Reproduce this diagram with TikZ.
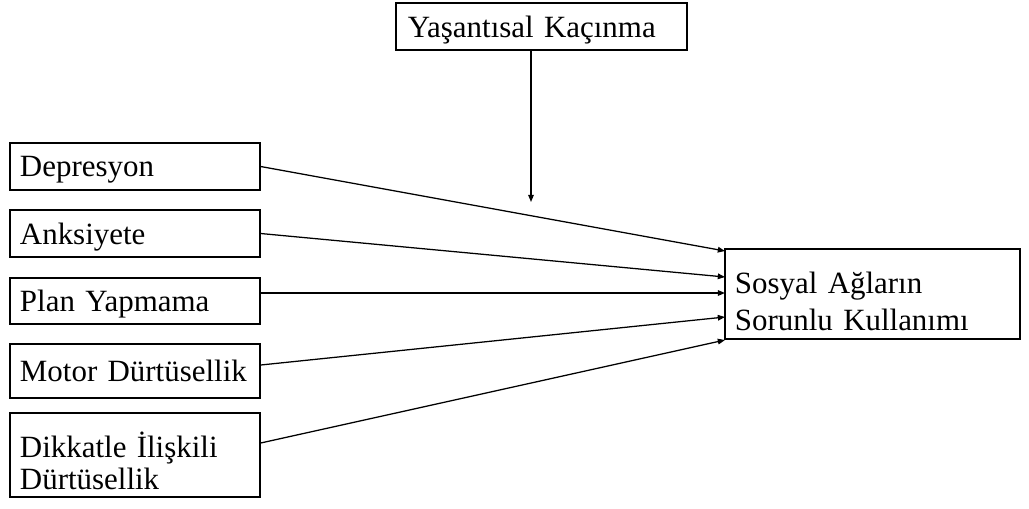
\documentclass[tikz,border=0pt]{standalone}
\usepackage{fontspec}
\setmainfont{Liberation Serif}
\usetikzlibrary{positioning,arrows.meta}

\begin{document}
\begin{tikzpicture}[
        x=0.025cm, y=-0.025cm,
        every node/.style={font=\fontsize{22}{22}\selectfont},
        box/.style={rectangle, draw, line width=0.9pt, inner xsep=0.25cm, inner ysep=0pt, align=left, minimum height=#1},
        leftbox/.style={box=#1, text width=5.75cm, text depth=0pt},
        arrow/.style={-{Triangle[length=1.8mm, width=1.4mm]}, line width=0.9pt}
    ]
    \useasboundingbox (0,0) rectangle (1029,508);
    % predictors on the left
    \node[leftbox=1.175cm] (dep) at (135,166.5) {Depresyon};
    \node[leftbox=1.175cm] (anks) at (135,233.5) {Anksiyete};
    \node[leftbox=1.15cm] (plan) at (135,301) {Plan Yapmama};
    \node[leftbox=1.35cm] (motor) at (135,371) {Motor Dürtüsellik};
    \node[leftbox=2.1cm, text depth=, font=\fontsize{22}{22.5}\selectfont] (dikkat) at (135,455) {\rule{0pt}{1.2em}Dikkatle İlişkili\\Dürtüsellik};
    % moderator and outcome
    \node[box=1.175cm, text depth=0pt, inner xsep=0.3cm, text width=6.675cm] (kacinma) at (541.5,26.5) {Yaşantısal Kaçınma};
    \node[box=2.25cm, text width=6.875cm, font=\fontsize{22}{26.3}\selectfont] (sosyal) at (872.5,294) {\rule{0pt}{1.15em}Sosyal Ağların\\Sorunlu Kullanımı};
    \coordinate (e1) at (725,251);
    \coordinate (e2) at (725,277);
    \coordinate (e3) at (725,293);
    \coordinate (e4) at (725,317);
    \coordinate (e5) at (725,340);
    \coordinate (tip) at (531,202);
    \draw[arrow] (dep.east) -- (e1);
    \draw[arrow] (anks.east) -- (e2);
    \draw[arrow] (plan.east |- e3) -- (e3);
    \draw[arrow] ([yshift=0.15cm]motor.east) -- (e4);
    \draw[arrow] ([yshift=0.3cm]dikkat.east) -- (e5);
    \draw[arrow] (kacinma.south -| tip) -- (tip);
\end{tikzpicture}
\end{document}
